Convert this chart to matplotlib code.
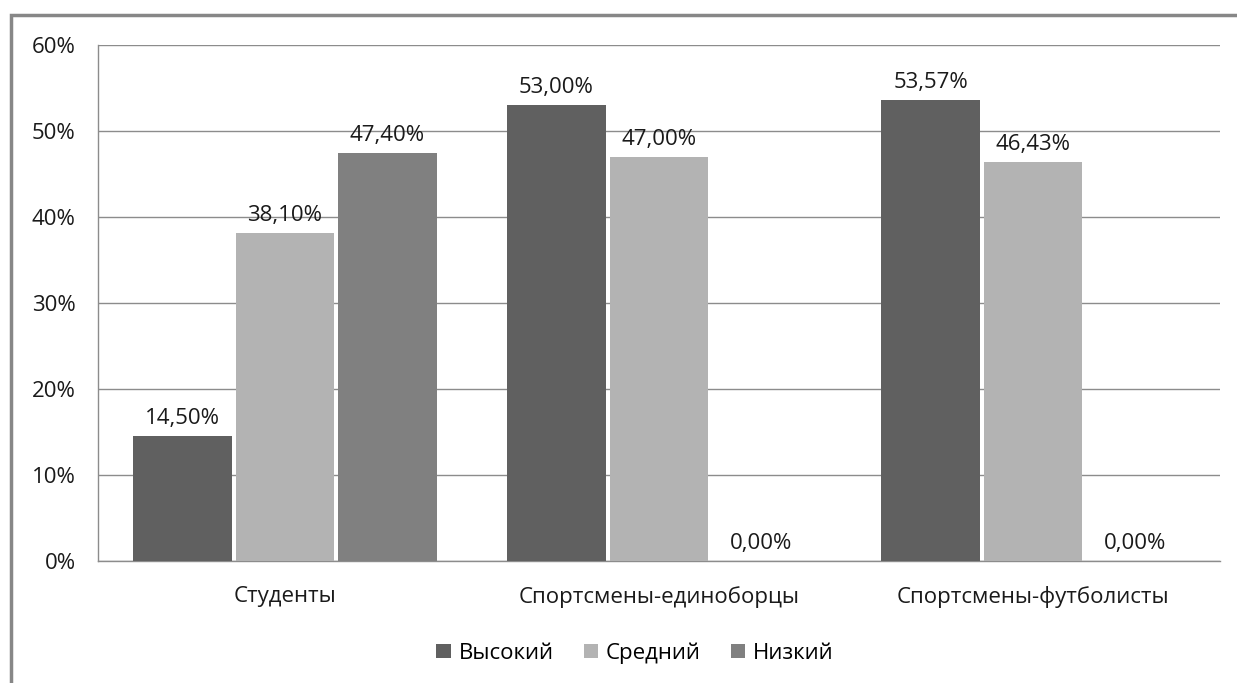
import numpy as np
import matplotlib.pyplot as plt
from matplotlib.patches import Rectangle

categories = ["Студенты", "Спортсмены-единоборцы", "Спортсмены-футболисты"]
series_names = ["Высокий", "Средний", "Низкий"]
vysokiy = [14.50, 53.00, 53.57]
sredniy = [38.10, 47.00, 46.43]
nizkiy = [47.40, 0.00, 0.00]
colors = ["#606060", "#b3b3b3", "#808080"]

plt.rcParams['font.family'] = ['Open Sans', 'DejaVu Sans']
fs = 16
tc = "#1a1a1a"

fig = plt.figure(figsize=(12.37, 6.83), dpi=100)
ax = fig.add_axes([98 / 1237, 1 - 561 / 683, 1122 / 1237, 516 / 683])

# outer chart frame (cut off on the right and bottom)
fig.patches.append(Rectangle((11 / 1237, -0.1), 1.2, 1 - 15 / 683 + 0.1,
                             transform=fig.transFigure, fill=False,
                             edgecolor="#878787", linewidth=2.5))

x = np.arange(len(categories))
step = 0.274
w = 0.263
for i, (vals, name) in enumerate(zip([vysokiy, sredniy, nizkiy], series_names)):
    pos = x + (i - 1) * step
    ax.bar(pos, vals, width=w, color=colors[i], linewidth=0, label=name, zorder=3)
    for p, v in zip(pos, vals):
        ax.annotate(f"{v:.2f}%".replace(".", ","), (p, v), xytext=(0, 5),
                    textcoords="offset points", ha="center", va="bottom",
                    fontsize=fs, color=tc)

ax.set_xlim(-0.5, 2.5)
ax.set_ylim(0, 60)
ax.set_yticks(range(0, 61, 10))
ax.set_yticklabels([f"{t}%" for t in range(0, 61, 10)], fontsize=fs, color=tc)
ax.set_xticks(x)
ax.set_xticklabels(categories, fontsize=fs, color=tc)
ax.tick_params(axis="both", length=0)
ax.tick_params(axis="y", pad=16)
ax.tick_params(axis="x", pad=18)
ax.grid(axis="y", color="#8c8c8c", linewidth=1, zorder=0)
for s in ["top", "right"]:
    ax.spines[s].set_visible(False)
for s in ["left", "bottom"]:
    ax.spines[s].set_color("#8c8c8c")
    ax.spines[s].set_linewidth(1)

leg = fig.legend(loc="center", bbox_to_anchor=(635 / 1237, 1 - 653 / 683), ncol=3,
                 frameon=False, fontsize=fs, handlelength=0.65, handleheight=0.65,
                 handletextpad=0.35, columnspacing=1.35)

fig.savefig("out.png", dpi=100)
